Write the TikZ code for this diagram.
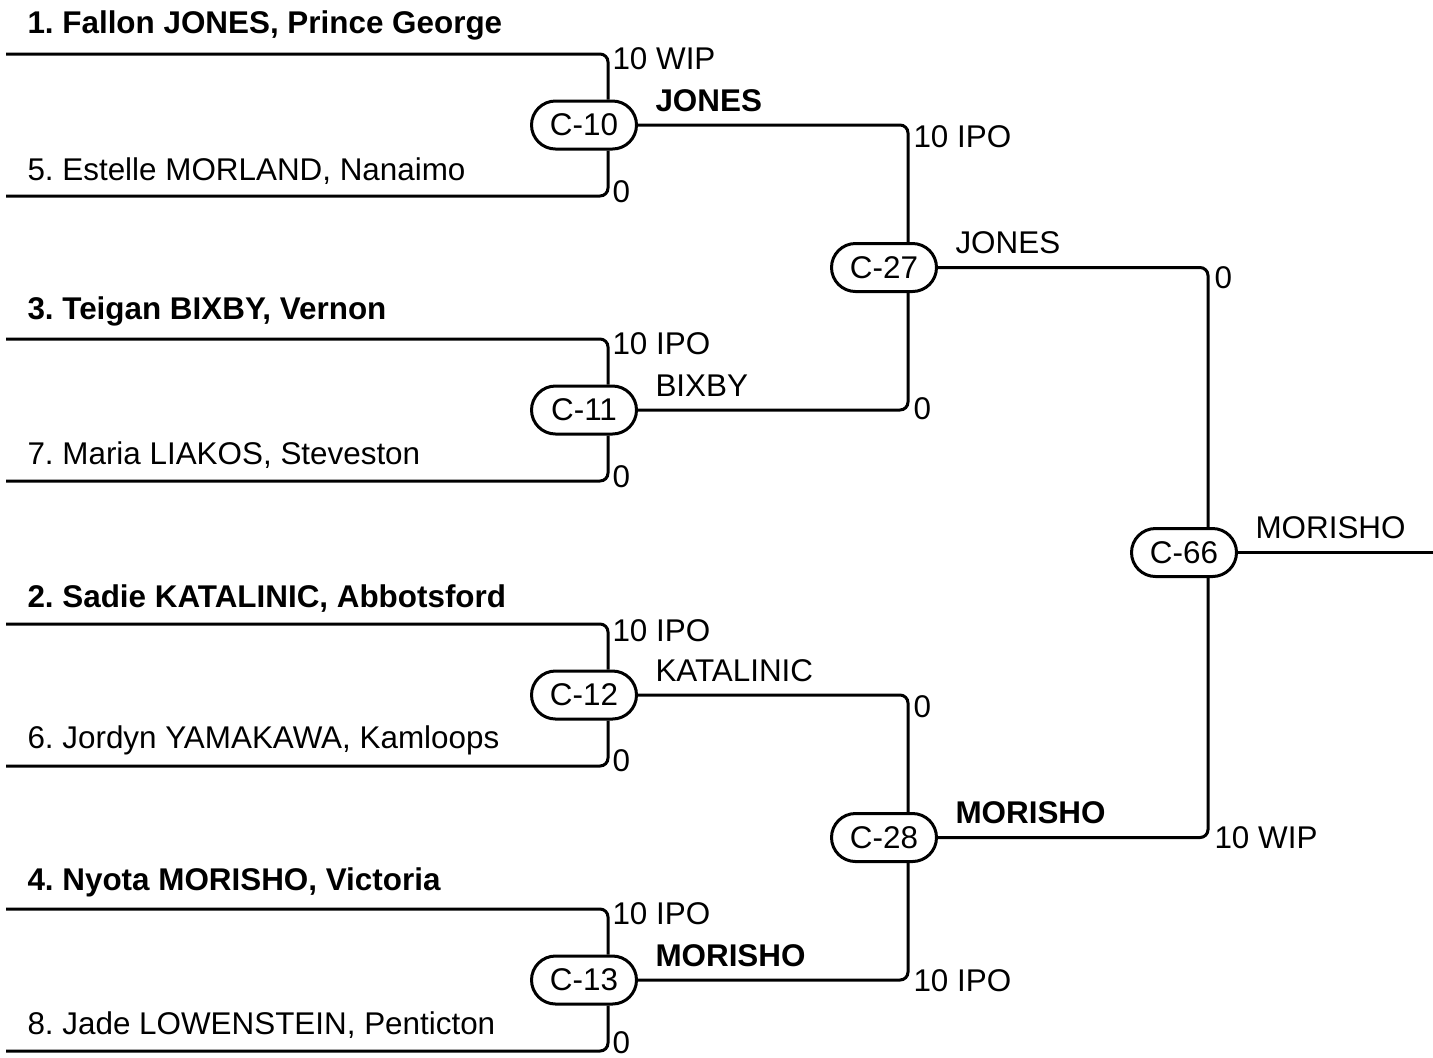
\documentclass[tikz,border=0pt]{standalone}
\usepackage{fontspec}
\setmainfont{Liberation Sans}
\usetikzlibrary{positioning}
\frenchspacing

\begin{document}
\begin{tikzpicture}[x=0.5pt, y=-0.5pt, line width=1.5pt,
    every node/.style={font=\fontsize{15.7}{19}\selectfont},
    match/.style={draw, fill=white, rounded corners=12pt, minimum width=52.5pt, minimum height=24pt, inner sep=0pt},
    lbl/.style={anchor=base west, inner sep=0pt},
    seed/.style={lbl, font=\fontsize{15.7}{19}\selectfont\bfseries},
    win/.style={anchor=base west, inner sep=0pt, xshift=8pt, yshift=7pt}]
      \useasboundingbox (0,0) rectangle (1433,1057);
      % matches
      \node[match] (m10) at (584,125) {C-10};
      \node[match] (m11) at (584,410) {C-11};
      \node[match] (m12) at (584,695) {C-12};
      \node[match] (m13) at (584,980) {C-13};
      \node[match] (m27) at (884,267.5) {C-27};
      \node[match] (m28) at (884,837.5) {C-28};
      \node[match] (m66) at (1184,552.5) {C-66};
      % entrants
      \coordinate (e1) at (6,54);
      \coordinate (e5) at (6,196);
      \coordinate (e3) at (6,339);
      \coordinate (e7) at (6,481);
      \coordinate (e2) at (6,624);
      \coordinate (e6) at (6,766);
      \coordinate (e4) at (6,909);
      \coordinate (e8) at (6,1051);
      \coordinate (out) at (1433,552.5);
      \node[seed] (n1) at (26,33) {1. Fallon JONES, Prince George};
      \node[lbl] (n5) at (26,180) {5. Estelle MORLAND, Nanaimo};
      \node[seed] (n3) at (26,319) {3. Teigan BIXBY, Vernon};
      \node[lbl] (n7) at (26,464) {7. Maria LIAKOS, Steveston};
      \node[seed] (n2) at (26,607) {2. Sadie KATALINIC, Abbotsford};
      \node[lbl] (n6) at (26,748) {6. Jordyn YAMAKAWA, Kamloops};
      \node[seed] (n4) at (26,890) {4. Nyota MORISHO, Victoria};
      \node[lbl] (n8) at (26,1034) {8. Jade LOWENSTEIN, Penticton};
      % round 1
      \draw[rounded corners=4pt] (e1) -| ([xshift=12pt]m10.north);
      \draw[rounded corners=4pt] (e5) -| ([xshift=12pt]m10.south);
      \draw[rounded corners=4pt] (e3) -| ([xshift=12pt]m11.north);
      \draw[rounded corners=4pt] (e7) -| ([xshift=12pt]m11.south);
      \draw[rounded corners=4pt] (e2) -| ([xshift=12pt]m12.north);
      \draw[rounded corners=4pt] (e6) -| ([xshift=12pt]m12.south);
      \draw[rounded corners=4pt] (e4) -| ([xshift=12pt]m13.north);
      \draw[rounded corners=4pt] (e8) -| ([xshift=12pt]m13.south);
      \node[lbl] (s1) at (611,69) {10 WIP};
      \node[lbl] (s5) at (611,202) {0};
      \node[lbl] (s3) at (611,354) {10 IPO};
      \node[lbl] (s7) at (611,487) {0};
      \node[lbl] (s2) at (611,641) {10 IPO};
      \node[lbl] (s6) at (611,771) {0};
      \node[lbl] (s4) at (611,924) {10 IPO};
      \node[lbl] (s8) at (611,1053) {0};
      % round 2
      \draw[rounded corners=4pt] (m10.east) -| ([xshift=12pt]m27.north);
      \draw[rounded corners=4pt] (m11.east) -| ([xshift=12pt]m27.south);
      \draw[rounded corners=4pt] (m12.east) -| ([xshift=12pt]m28.north);
      \draw[rounded corners=4pt] (m13.east) -| ([xshift=12pt]m28.south);
      \node[win, font=\fontsize{15.7}{19}\selectfont\bfseries] (w10) at (m10.east) {JONES};
      \node[win] (w11) at (m11.east) {BIXBY};
      \node[win] (w12) at (m12.east) {KATALINIC};
      \node[win, font=\fontsize{15.7}{19}\selectfont\bfseries] (w13) at (m13.east) {MORISHO};
      \node[lbl] (s10) at (912,147) {10 IPO};
      \node[lbl] (s11) at (912,419) {0};
      \node[lbl] (s12) at (912,717) {0};
      \node[lbl] (s13) at (912,991) {10 IPO};
      % final
      \draw[rounded corners=4pt] (m27.east) -| ([xshift=12pt]m66.north);
      \draw[rounded corners=4pt] (m28.east) -| ([xshift=12pt]m66.south);
      \draw (m66.east) -- (out);
      \node[win] (w27) at (m27.east) {JONES};
      \node[win, font=\fontsize{15.7}{19}\selectfont\bfseries] (w28) at (m28.east) {MORISHO};
      \node[win] (w66) at (m66.east) {MORISHO};
      \node[lbl] (s27) at (1213,288) {0};
      \node[lbl] (s28) at (1213,848) {10 WIP};
    \end{tikzpicture}
\end{document}
